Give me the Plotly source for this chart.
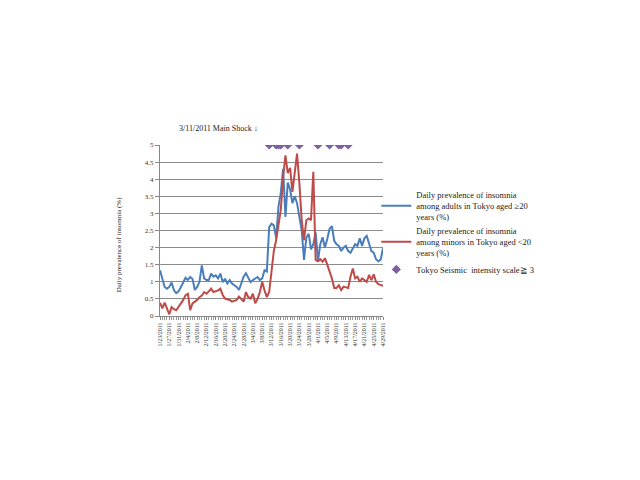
import pandas as pd
import plotly.graph_objects as go

# dagliga datum 1/23/2011 - 4/29/2011
dates = pd.date_range("2011-01-23", "2011-04-29", freq="D")

adults = [1.34, 1.05, 0.85, 0.8, 0.85, 0.98, 0.75, 0.67, 0.72, 0.85,
          1.0, 1.12, 1.05, 1.14, 1.08, 0.76, 0.85, 1.0, 1.48, 1.1,
          1.05, 1.05, 1.24, 1.15, 1.19, 1.1, 1.24, 0.99, 1.09, 0.95,
          1.05, 0.95, 0.9, 0.85, 0.76, 0.95, 1.15, 1.25, 1.1, 0.99,
          1.05, 1.09, 1.14, 1.05, 1.1, 1.34, 1.3, 2.6, 2.7, 2.65,
          2.28, 3.2, 3.6, 4.3, 2.9, 3.9, 3.7, 3.3, 3.5, 3.3,
          2.9, 2.5, 1.64, 2.3, 2.4, 1.95, 2.1, 2.45, 1.6, 2.1,
          2.3, 2.0, 2.25, 2.55, 2.63, 2.2, 2.1, 2.05, 1.9, 2.0,
          2.05, 1.9, 1.85, 2.0, 2.1, 2.05, 2.27, 2.05, 2.27, 2.34,
          2.1, 1.9, 1.85, 1.66, 1.6, 1.65, 1.98]

minors = [0.39, 0.22, 0.39, 0.2, 0.05, 0.26, 0.2, 0.17, 0.27, 0.35,
          0.47, 0.61, 0.65, 0.17, 0.37, 0.42, 0.47, 0.55, 0.6, 0.7,
          0.65, 0.72, 0.8, 0.7, 0.72, 0.75, 0.8, 0.61, 0.51, 0.5,
          0.47, 0.42, 0.45, 0.47, 0.57, 0.5, 0.42, 0.7, 0.55, 0.51,
          0.65, 0.37, 0.5, 0.7, 1.0, 0.75, 0.55, 0.7, 1.35, 1.9,
          2.22, 2.7, 3.1, 4.07, 4.7, 4.18, 4.33, 3.63, 4.27, 4.75,
          3.88, 2.8, 2.22, 2.8, 2.85, 2.8, 4.22, 1.64, 1.6, 1.66,
          1.59, 1.69, 1.5, 1.3, 1.1, 0.82, 0.82, 0.9, 0.76, 0.86,
          0.85, 0.82, 1.15, 1.39, 1.1, 1.15, 1.0, 1.1, 1.05, 1.0,
          1.2, 1.05, 1.22, 1.0, 0.93, 0.9, 0.88]

quake_dates = ["2011-03-11", "2011-03-14", "2011-03-15", "2011-03-16", "2011-03-19",
               "2011-03-24", "2011-04-01", "2011-04-06", "2011-04-10", "2011-04-11",
               "2011-04-14"]
quake_level = [5] * len(quake_dates)

fig = go.Figure()
fig.add_trace(go.Scatter(x=dates, y=adults, mode="lines", line=dict(color="#4A7EBB", width=2),
                         name="Daily prevalence of insomnia<br>among adults in Tokyo aged ≥20<br>years (%)"))
fig.add_trace(go.Scatter(x=dates, y=minors, mode="lines", line=dict(color="#BE4B48", width=2),
                         name="Daily prevalence of insomnia<br>among minors in Tokyo aged <20<br>years (%)"))
fig.add_trace(go.Scatter(x=quake_dates, y=quake_level, mode="markers",
                         marker=dict(symbol="diamond", size=7, color="#7E5FA3"),
                         name="Tokyo Seismic  intensity scale≧ 3"))

day = 86400000
fig.update_xaxes(range=[dates[0], dates[-1]], tickformat="%-m/%-d/%Y", tick0="2011-01-23", dtick=4 * day,
                 tickangle=-90, tickfont=dict(size=6, color="#333333"), ticks="outside", ticklen=3,
                 tickcolor="#888888", showline=True, linecolor="#888888", showgrid=False,
                 minor=dict(dtick=day, ticks="outside", ticklen=3, tickcolor="#999999"))
fig.update_yaxes(range=[0, 5], dtick=0.5, tickfont=dict(size=7, color="#333333"), ticks="outside",
                 ticklen=4, tickcolor="#888888", showline=True, linecolor="#888888",
                 gridcolor="#8C8C8C", gridwidth=1, zeroline=False)

# sidan har 8px marginal i body, därför flyttas allt 8px upp/vänster
fig.update_layout(
    width=640, height=480, plot_bgcolor="white", paper_bgcolor="white",
    margin=dict(l=152, r=265, t=137, b=172),
    font=dict(family="Liberation Serif, Times New Roman, serif", color="#222222"),
    legend=dict(x=0.97, y=0.78, xanchor="left", yanchor="top", bgcolor="rgba(0,0,0,0)",
                font=dict(size=8.5)),
    annotations=[
        dict(text="3/11/2011 Main Shock ↓", xref="paper", yref="paper", xanchor="center",
             x=(218 - 160) / 223, y=(316 - 122) / 171, showarrow=False, font=dict(size=8)),
        dict(text="Daily prevalence of insomnia (%)", textangle=-90, xref="paper", yref="paper",
             x=-0.21, y=0.42, showarrow=False, font=dict(size=7)),
    ],
)
fig.write_html("out.html")
